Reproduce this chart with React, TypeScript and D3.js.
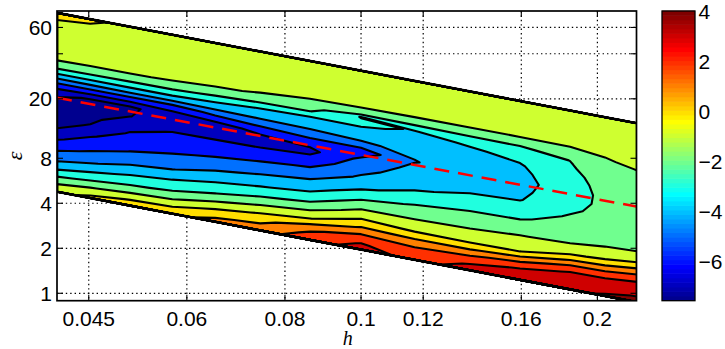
import React, { useEffect, useRef } from 'react';
import * as d3 from 'd3';

// grid columns: h
const hValues = [0.041, 0.0452, 0.0508, 0.0575, 0.0652, 0.0744, 0.0861, 0.1, 0.117, 0.1376, 0.1594, 0.1846, 0.2045, 0.2247];
// grid rows: eps * h, from the lower edge of the data band to the upper edge
const epsTimesH = [0.196, 0.2129, 0.2312, 0.2512, 0.2728, 0.3045, 0.3401, 0.3903, 0.4479, 0.514, 0.5898, 0.677, 0.7772, 0.8918, 1.0235, 1.1426, 1.2758, 1.3483, 1.4242, 1.5053, 1.5906, 1.7758, 2.0379, 2.3388, 2.6847, 3.081];

// field values, one list per h column (rows as above)
const zH0410 = [-0.3, -0.75, -1.35, -2.15, -2.92, -3.82, -4.52, -5.34, -6.15, -6.97, -7.3, -7.55, -7.35, -6.74, -5.25, -3.73, -2.23, -1.67, -1.15, -0.94, -0.86, -0.7, -0.5, -0.29, -0.09, 0.35];
const zH0452 = [0.25, -0.28, -1.05, -1.82, -2.48, -3.32, -4.11, -4.83, -5.47, -6.11, -6.92, -7.25, -7.38, -7.1, -5.27, -3.71, -2.3, -1.76, -1.27, -0.97, -0.89, -0.73, -0.53, -0.33, -0.14, 0.15];
const zH0508 = [0.6, 0.05, -0.73, -1.45, -2.11, -2.79, -3.55, -4.33, -4.97, -5.43, -5.88, -6.42, -7.02, -7.15, -5.3, -3.65, -2.34, -1.82, -1.36, -0.98, -0.93, -0.81, -0.65, -0.5, -0.35, -0.2];
const zH0575 = [0.75, 0.21, -0.49, -1.23, -1.87, -2.52, -3.16, -4.04, -4.63, -5.15, -5.53, -5.92, -6.5, -6.55, -5.36, -3.61, -2.38, -1.87, -1.45, -1.02, -0.93, -0.82, -0.68, -0.55, -0.43, -0.3];
const zH0652 = [1.3, 0.89, 0.26, -0.44, -1.15, -2.02, -2.66, -3.46, -4.21, -4.86, -5.39, -5.88, -6.5, -6.25, -4.85, -3.65, -2.73, -2.12, -1.67, -1.25, -0.94, -0.84, -0.72, -0.6, -0.48, -0.38];
const zH0744 = [1.6, 1.15, 0.65, 0.12, -0.52, -1.41, -2.22, -3.07, -3.81, -4.51, -5.19, -5.84, -6.45, -5.83, -4.53, -3.66, -3.05, -2.43, -1.86, -1.45, -1.04, -0.88, -0.76, -0.65, -0.55, -0.45];
const zH0861 = [2.6, 2.25, 1.78, 0.94, -0.03, -0.87, -1.76, -2.7, -3.45, -4.14, -4.9, -5.63, -6.3, -5.44, -4.33, -3.67, -3.17, -2.77, -1.98, -1.6, -1.2, -0.92, -0.82, -0.72, -0.62, -0.52];
const zH1000 = [3.4, 3.09, 2.56, 1.92, 1.13, 0.24, -0.52, -1.46, -2.41, -3.21, -3.84, -4.32, -4.76, -5.55, -4.11, -3.56, -3.08, -2.85, -2.85, -3.05, -1.7, -0.88, -0.82, -0.75, -0.67, -0.6];
const zH1170 = [2.75, 2.46, 2.17, 1.64, 0.9, -0.06, -0.66, -1.31, -1.89, -2.57, -3.13, -3.4, -3.7, -4.05, -3.8, -3.5, -3.3, -3.18, -3.04, -2.44, -1.76, -0.95, -0.86, -0.78, -0.71, -0.65];
const zH1376 = [3.3, 3.09, 2.56, 1.79, 0.91, -0.11, -0.61, -1.19, -1.68, -2.19, -2.76, -3.15, -3.35, -3.5, -3.4, -3.25, -3.08, -2.94, -2.57, -2.19, -1.77, -0.97, -0.88, -0.8, -0.73, -0.67];
const zH1594 = [3.8, 3.45, 3.09, 2.35, 1.36, -0.03, -0.46, -1.01, -1.58, -2.13, -2.62, -3.05, -3.2, -3.3, -3.2, -3.08, -2.84, -2.6, -2.36, -2.13, -1.81, -0.98, -0.9, -0.83, -0.77, -0.71];
const zH1846 = [3.95, 3.7, 3.45, 3.15, 2.53, 1.14, -0.1, -0.95, -1.28, -1.58, -1.88, -2.17, -2.4, -2.5, -2.4, -2.28, -2.12, -2.06, -1.99, -1.7, -1.4, -0.97, -0.9, -0.84, -0.79, -0.74];
const zH2045 = [4.03, 3.96, 3.6, 3.2, 2.56, 1.35, 0.12, -0.82, -1.16, -1.4, -1.58, -1.7, -1.75, -1.74, -1.68, -1.6, -1.48, -1.4, -1.3, -1.17, -1.03, -0.95, -0.88, -0.83, -0.79, -0.75];
const zH2247 = [4.03, 4.01, 3.74, 3.34, 2.9, 1.85, 0.67, -0.78, -1.1, -1.25, -1.35, -1.42, -1.45, -1.45, -1.4, -1.33, -1.24, -1.18, -1.08, -0.98, -0.94, -0.9, -0.85, -0.81, -0.78, -0.75];

const contourLevels = [-7, -6, -5, -4, -3, -2, -1, 0, 1, 2, 3, 4];
const colorLimits = [-7.55, 4.03];

// red dashed line
const dashH = [0.041, 0.2243];
const dashEps = [20.3, 3.8];

const xTicks = [0.045, 0.06, 0.08, 0.1, 0.12, 0.16, 0.2];
const xTickText = ['0.045', '0.06', '0.08', '0.1', '0.12', '0.16', '0.2'];
const yTicks = [1, 2, 4, 8, 20, 40, 60];
const yTickText = ['1', '2', '4', '8', '20', '', '60'];
const barTicks = [-6, -4, -2, 0, 2, 4];

// MATLAB jet(64), row 1..64
const jetRow = (row: number) => {
  const u = (k: number) => (k < 1 || k > 47 ? 0 : k <= 16 ? k / 16 : k <= 31 ? 1 : (48 - k) / 16);
  return d3.rgb(u(row - 24) * 255, u(row - 8) * 255, u(row + 8) * 255).formatHex();
};
const colorOf = (v: number) => {
  const idx = Math.floor(((v - colorLimits[0]) / (colorLimits[1] - colorLimits[0])) * 64) + 1;
  return jetRow(Math.max(1, Math.min(64, idx)));
};

const FONT = '"Liberation Sans", Arial, Helvetica, sans-serif';

const App = () => {
  const ref = useRef<SVGSVGElement | null>(null);

  useEffect(() => {
    document.body.style.margin = '0';
    const svg = d3.select(ref.current);
    svg.selectAll('*').remove();

    const plot = { left: 57, right: 636.5, top: 11, bottom: 300.7 };
    const x = d3.scaleLog().domain([0.041, 0.2243]).range([plot.left, plot.right]);
    const y = d3.scaleLog().domain([0.892, 77.3]).range([plot.bottom, plot.top]);

    svg.append('defs').append('clipPath').attr('id', 'plotclip')
      .append('rect')
      .attr('x', plot.left).attr('y', plot.top)
      .attr('width', plot.right - plot.left).attr('height', plot.bottom - plot.top);

    // grid (under the contours)
    const grid = svg.append('g').attr('stroke', '#000').attr('stroke-width', 1.2).attr('stroke-dasharray', '1.4,3');
    xTicks.forEach((t) => {
      grid.append('line').attr('x1', x(t)).attr('x2', x(t)).attr('y1', plot.top).attr('y2', plot.bottom);
    });
    yTicks.forEach((t) => {
      grid.append('line').attr('x1', plot.left).attr('x2', plot.right).attr('y1', y(t)).attr('y2', y(t));
    });

    // field on the grid
    const zColumns = [zH0410, zH0452, zH0508, zH0575, zH0652, zH0744, zH0861, zH1000, zH1170, zH1376, zH1594, zH1846, zH2045, zH2247];
    const n = hValues.length;
    const m = epsTimesH.length;
    const values: number[] = new Array(n * m);
    for (let j = 0; j < m; j++) for (let i = 0; i < n; i++) values[j * n + i] = zColumns[i][j];

    const logH = hValues.map(Math.log10);
    const logR = epsTimesH.map(Math.log10);
    const lerp = (arr: number[], t: number) => {
      const c = Math.max(0, Math.min(arr.length - 1, t));
      const k = Math.min(arr.length - 2, Math.floor(c));
      return arr[k] + (arr[k + 1] - arr[k]) * (c - k);
    };
    const toPx = (p: number[]) => {
      const lh = lerp(logH, p[0] - 0.5);
      const lr = lerp(logR, p[1] - 0.5);
      return [x(10 ** lh), y(10 ** (lr - lh))];
    };
    const ringPath = (ring: number[][]) =>
      ring.map((p, k) => (k ? 'L' : 'M') + toPx(p).map((v) => v.toFixed(2)).join(',')).join('') + 'Z';

    const contours = d3.contours().size([n, m]).thresholds(contourLevels)(values);

    const field = svg.append('g').attr('clip-path', 'url(#plotclip)');
    const regionD = ringPath([[0, 0], [n, 0], [n, m], [0, m]]);
    field.append('path').attr('d', regionD).attr('fill', colorOf(d3.min(values) as number));

    const paths = contours
      .map((c) => ({
        value: c.value,
        d: c.coordinates.map((poly) => poly.map(ringPath).join('')).join(''),
      }))
      .filter((c) => c.d.length > 0);

    field.selectAll('path.band').data(paths).enter().append('path')
      .attr('class', 'band')
      .attr('d', (d) => d.d)
      .attr('fill-rule', 'evenodd')
      .attr('fill', (d) => colorOf(d.value));

    field.selectAll('path.line').data(paths).enter().append('path')
      .attr('class', 'line')
      .attr('d', (d) => d.d)
      .attr('fill', 'none')
      .attr('stroke', '#000')
      .attr('stroke-width', 2.1)
      .attr('stroke-linejoin', 'round');

    field.append('path').attr('d', regionD).attr('fill', 'none').attr('stroke', '#000').attr('stroke-width', 2.5);

    // dashed line
    const line = d3.line<number>().x((_, i) => x(dashH[i])).y((_, i) => y(dashEps[i]));
    field.append('path')
      .attr('d', line(dashH) as string)
      .attr('fill', 'none')
      .attr('stroke', '#ff0000')
      .attr('stroke-width', 2.5)
      .attr('stroke-dasharray', '15,9');

    // frame and ticks
    svg.append('rect')
      .attr('x', plot.left).attr('y', plot.top)
      .attr('width', plot.right - plot.left).attr('height', plot.bottom - plot.top)
      .attr('fill', 'none').attr('stroke', '#000').attr('stroke-width', 1.7);

    const ticks = svg.append('g').attr('stroke', '#000').attr('stroke-width', 1.1);
    xTicks.forEach((t) => {
      ticks.append('line').attr('x1', x(t)).attr('x2', x(t)).attr('y1', plot.bottom).attr('y2', plot.bottom - 6);
      ticks.append('line').attr('x1', x(t)).attr('x2', x(t)).attr('y1', plot.top).attr('y2', plot.top + 6);
    });
    yTicks.forEach((t) => {
      ticks.append('line').attr('x1', plot.left).attr('x2', plot.left + 6).attr('y1', y(t)).attr('y2', y(t));
      ticks.append('line').attr('x1', plot.right).attr('x2', plot.right - 6).attr('y1', y(t)).attr('y2', y(t));
    });

    const labels = svg.append('g').attr('font-family', FONT).attr('font-size', 21).attr('fill', '#000');
    xTicks.forEach((t, i) => {
      labels.append('text').attr('x', x(t)).attr('y', 326).attr('text-anchor', 'middle').text(xTickText[i]);
    });
    yTicks.forEach((t, i) => {
      if (!yTickText[i]) return;
      labels.append('text').attr('x', 52).attr('y', y(t)).attr('dy', '0.36em').attr('text-anchor', 'end').text(yTickText[i]);
    });

    svg.append('text')
      .attr('x', (plot.left + plot.right) / 2 + 1).attr('y', 344.5)
      .attr('text-anchor', 'middle')
      .attr('font-family', '"Liberation Serif", "Times New Roman", serif')
      .attr('font-style', 'italic').attr('font-size', 20)
      .text('h');
    svg.append('text')
      .attr('transform', `translate(22,${(plot.top + plot.bottom) / 2}) rotate(-90)`)
      .attr('text-anchor', 'middle')
      .attr('font-family', '"Liberation Serif", "Times New Roman", serif')
      .attr('font-style', 'italic').attr('font-size', 22)
      .text('ε');

    // colorbar
    const bar = { left: 662, right: 695, top: plot.top, bottom: plot.bottom };
    const cy = d3.scaleLinear().domain(colorLimits).range([bar.bottom, bar.top]);
    const step = (bar.bottom - bar.top) / 64;
    const rows = d3.range(1, 65);
    svg.append('g').selectAll('rect').data(rows).enter().append('rect')
      .attr('x', bar.left).attr('width', bar.right - bar.left)
      .attr('y', (r) => bar.bottom - r * step - 0.3)
      .attr('height', step + 0.6)
      .attr('fill', (r) => jetRow(r));
    svg.append('rect')
      .attr('x', bar.left).attr('y', bar.top)
      .attr('width', bar.right - bar.left).attr('height', bar.bottom - bar.top)
      .attr('fill', 'none').attr('stroke', '#000').attr('stroke-width', 1.3);
    barTicks.forEach((t) => {
      ticks.append('line').attr('x1', bar.left).attr('x2', bar.left + 3.5).attr('y1', cy(t)).attr('y2', cy(t));
      ticks.append('line').attr('x1', bar.right).attr('x2', bar.right - 3.5).attr('y1', cy(t)).attr('y2', cy(t));
      labels.append('text').attr('x', 698.5).attr('y', cy(t)).attr('dy', '0.36em')
        .text(t < 0 ? `\u2212${-t}` : `${t}`);
    });
  }, []);

  return <svg ref={ref} width={725} height={349} style={{ display: 'block', background: '#fff' }} />;
};

export default App;
